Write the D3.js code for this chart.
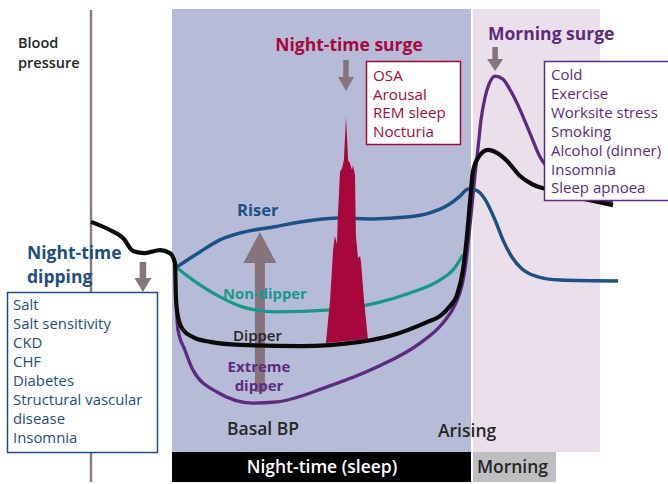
<!DOCTYPE html>
<html><head><meta charset="utf-8">
<script src="https://cdn.jsdelivr.net/npm/d3@7/dist/d3.min.js"></script>
<style>
html,body{margin:0;padding:0;background:#fff;}
svg{display:block;font-family:"Open Sans",Lato,sans-serif;}
</style></head>
<body><svg id="c" width="668" height="484"></svg>
<script>
// ---- Data (time: 0 = sleep onset, 100 = arising; BP: arbitrary units) ----
const periods = ["Night-time (sleep)", "Morning"];
const periodStart = [0, 100.3];
const periodEnd = [100, 142.7];
const periodLabelEnd = [100, 128];

const dipperT = [-27,-20.7,-16.3,-13,-9,-4,-0.7,1,1.3,2,3.7,7,12.7,22.7,42.7,62.7,73.7,85,89.3,92.7,95,97,98.3,99.3,100.3,102,105.3,108.3,111.7,116,120,126,136,147];
const dipperBP = [76.7,74,71.3,67,66.3,67.3,66.3,63,51.7,45,40.7,38.3,36.7,35.7,35.3,36.7,39,43.3,45.3,48.7,52.3,60.7,71.7,83,93.3,98,100.7,99.7,97,92,89.3,87.3,84.7,82.3];

const riserT = [1.7,9.3,16,22.7,33.7,42.7,56,67,78.3,86,92,96,98.7,101.3,104.3,107.7,110.3,113.3,116.7,121,129.3,148.7];
const riserBP = [61.7,66.7,70.7,73,75,76.7,78,77.7,78.3,79.7,82.3,85.3,87.7,87.3,84.3,77.3,70.7,65,61,58.7,57.3,57];

const nonDipperT = [1.7,7,16,23.7,35,51.7,68.3,79.3,89.3,93.7,97];
const nonDipperBP = [61.3,57.3,51.7,48.3,46.7,47.3,49.7,53,57.3,60.7,65.7];

const extremeT = [1.3,2,4.3,7,15,27,35,51.7,68.3,82.7,90.3,94.3,96.7,98,99,100,101,102,103,104.3,105.7,107.7,110.3,112.7,115,119.3,122.7,125,131,139.3,147];
const extremeBP = [50.7,40.7,34,27.3,20,16.3,16.7,21.7,28.3,36.3,43,49,55.7,63.3,72.3,82.3,92.3,101.3,110.7,118,122.7,125.3,124.3,120.7,116.3,106.3,98.3,95,89,85.7,83.3];

const surgeT = [51.3,52.7,53.7,54.3,55,55.3,56,56.7,57.3,58,58.7,59.3,60,60.3,61,61.3,62,62.7,63,64,65.3];
const surgeBP = [36.3,50.7,67.3,72,69.3,79,93.3,94.7,97.3,111.7,97.3,96.3,94,95.7,92.3,72.3,64.7,65.3,63.3,50.7,37.7];

const dippingCauses = ["Salt","Salt sensitivity","CKD","CHF","Diabetes","Structural vascular","disease","Insomnia"];
const nightSurgeCauses = ["OSA","Arousal","REM sleep","Nocturia"];
const morningSurgeCauses = ["Cold","Exercise","Worksite stress","Smoking","Alcohol (dinner)","Insomnia","Sleep apnoea"];

// ---- Scales ----
const x = d3.scaleLinear().domain([0, 100]).range([172, 472]);
const y = d3.scaleLinear().domain([0, 150]).range([452, 2]);

const svg = d3.select("#c");
const C = {
  night:"#b6bcd7", morning:"#ecdfec", axis:"#8a7a81", arrow:"#86747a",
  black:"#0a0a0a", riser:"#1b5186", teal:"#15998a", purple:"#5c2b7f",
  crimson:"#a8073d", blueText:"#1d4f82", dark:"#262626", grey:"#bfbfc2"
};

// background periods
svg.append("rect").attr("x", x(periodStart[0])).attr("y", 9).attr("width", x(periodEnd[0]) - x(periodStart[0]) - 1).attr("height", 443).attr("fill", C.night);
svg.append("rect").attr("x", x(periodStart[1])).attr("y", 9).attr("width", x(periodEnd[1]) - x(periodStart[1])).attr("height", 443).attr("fill", C.morning);

// period bars
svg.append("rect").attr("x", x(periodStart[0])).attr("y", 452).attr("width", x(periodEnd[0]) - x(periodStart[0]) - 1).attr("height", 30).attr("fill", "#000");
svg.append("rect").attr("x", x(periodStart[1])).attr("y", 452).attr("width", x(periodLabelEnd[1]) - x(periodStart[1])).attr("height", 30).attr("fill", C.grey);
svg.append("text").attr("x", (x(periodStart[0]) + x(periodEnd[0])) / 2).attr("y", 473).attr("text-anchor","middle")
  .attr("fill","#fff").attr("font-size",17.5).attr("font-weight",600).text(periods[0]);
svg.append("text").attr("x", x(periodStart[1]) + 4).attr("y", 473)
  .attr("fill",C.dark).attr("font-size",17.5).attr("font-weight",600).text(periods[1]);

// y axis line
svg.append("line").attr("x1", x(-27)).attr("x2", x(-27)).attr("y1", 10).attr("y2", 482).attr("stroke", C.axis).attr("stroke-width", 2.5);

// arrow helper
function arrow(cx, y0, y1, shaftW, headW, headL, dir) {
  const p = d3.path();
  const hs = shaftW/2, hh = headW/2;
  const base = y1 - dir*headL;
  p.moveTo(cx - hs, y0); p.lineTo(cx - hs, base); p.lineTo(cx - hh, base);
  p.lineTo(cx, y1); p.lineTo(cx + hh, base); p.lineTo(cx + hs, base);
  p.lineTo(cx + hs, y0); p.closePath();
  svg.append("path").attr("d", p.toString()).attr("fill", C.arrow);
}
arrow(x(29.3), 392, 232, 10, 33, 31, -1);

const line = d3.line().x(d => x(d[0])).y(d => y(d[1])).curve(d3.curveMonotoneX);
function series(ts, vs, color, w) {
  svg.append("path").datum(ts.map((t,i)=>[t, vs[i]])).attr("d", line)
    .attr("fill","none").attr("stroke", color).attr("stroke-width", w)
    .attr("stroke-linejoin","round").attr("stroke-linecap","butt");
}
series(extremeT, extremeBP, C.purple, 3.3);
series(nonDipperT, nonDipperBP, C.teal, 3.2);
series(riserT, riserBP, C.riser, 3.5);

svg.append("path").datum(surgeT.map((t,i)=>[t, surgeBP[i]]))
  .attr("d", d3.line().x(d=>x(d[0])).y(d=>y(d[1])).curve(d3.curveLinear))
  .attr("fill", C.crimson);

series(dipperT, dipperBP, C.black, 4.2);

arrow(x(-9.7), 262, 292, 6.5, 17, 14, 1);
arrow(x(58), 60, 91, 5.5, 16, 14, 1);
arrow(x(107.7), 47, 71, 5.5, 16, 12, 1);

function txt(xp, yp, s, color, size, weight, anchor) {
  return svg.append("text").attr("x", xp).attr("y", yp).attr("fill", color)
    .attr("font-size", size).attr("font-weight", weight || 400)
    .attr("text-anchor", anchor || "start").text(s);
}
txt(18, 48, "Blood", C.dark, 14.5, 600);
txt(18, 68, "pressure", C.dark, 14.5, 600);

txt(27, 259, "Night-time", C.blueText, 17.5, 700);
txt(27, 283, "dipping", C.blueText, 17.5, 700);

txt(349, 51, "Night-time surge", C.crimson, 17.5, 700, "middle");
txt(488, 40, "Morning surge", C.purple, 17.5, 700);

txt(237, 216, "Riser", C.riser, 16.5, 700);
txt(223, 299, "Non-dipper", C.teal, 14.8, 700);
txt(233, 341, "Dipper", C.dark, 15, 600);
txt(259, 372, "Extreme", C.purple, 15, 700, "middle");
txt(259, 391, "dipper", C.purple, 15, 700, "middle");
txt(227, 435, "Basal BP", C.dark, 17.5, 600);
txt(438, 437, "Arising", C.dark, 17.5, 600);

function box(x0, y0, w, h, stroke, items, tx, ty, step, color, size) {
  svg.append("rect").attr("x", x0).attr("y", y0).attr("width", w).attr("height", h)
    .attr("fill", "#fff").attr("stroke", stroke).attr("stroke-width", 1.5);
  items.forEach((s, i) => txt(tx, ty + i*step, s, color, size, 400));
}
box(7.5, 292.5, 150, 160, C.blueText, dippingCauses, 13, 310, 19, C.blueText, 14.9);
box(366.5, 61.5, 94, 83, C.crimson, nightSurgeCauses, 373, 81, 18.7, C.crimson, 15.2);
box(544.5, 61.5, 130, 139, C.purple, morningSurgeCauses, 551, 80, 18.9, C.purple, 15);
</script></body></html>
